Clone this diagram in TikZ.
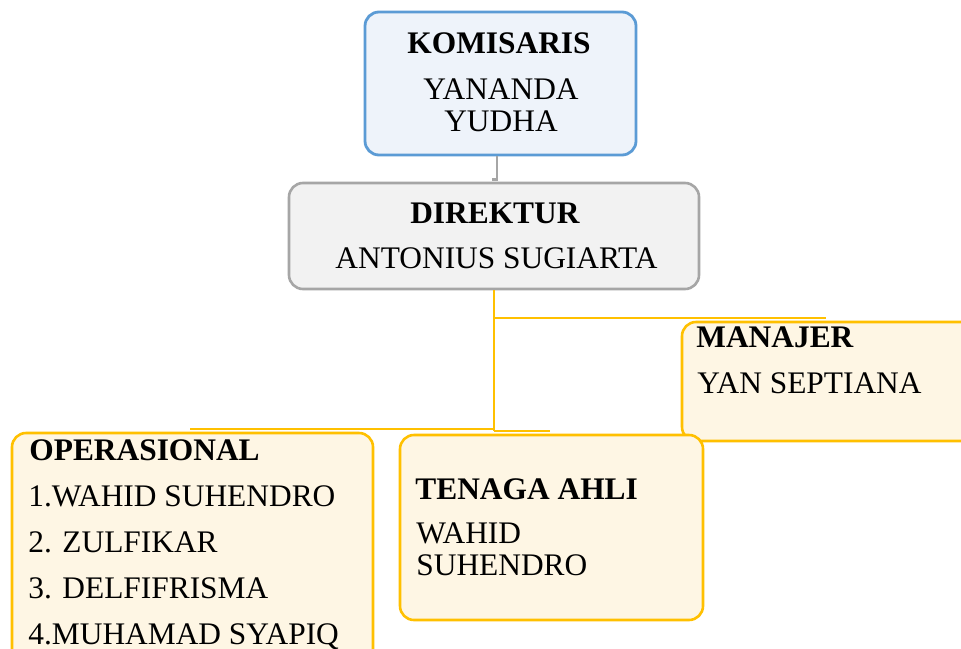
\documentclass[tikz,border=0pt]{standalone}
\usepackage{fontspec}
\setmainfont{Liberation Serif}
\definecolor{komblue}{HTML}{5B9BD5}
\definecolor{komfill}{HTML}{EEF3FA}
\definecolor{dirgray}{HTML}{A6A6A6}
\definecolor{dirfill}{HTML}{F2F2F2}
\definecolor{unitgold}{HTML}{FFC000}
\definecolor{unitfill}{HTML}{FEF6E4}
\tikzset{
  orgbox/.style={rectangle, rounded corners=7pt, line width=1.3pt, inner sep=0pt},
  kombox/.style={orgbox, draw=komblue, fill=komfill, line width=1.4pt},
  dirbox/.style={orgbox, draw=dirgray, fill=dirfill},
  unitbox/.style={orgbox, draw=unitgold, fill=unitfill},
  label/.style={anchor=base, inner sep=0pt, font=\fontsize{15.7}{18}\selectfont},
  labelw/.style={label, anchor=base west},
  goldline/.style={draw=unitgold, line width=1.3pt},
  grayline/.style={draw=dirgray, line width=1.3pt}
}
\begin{document}
\begin{tikzpicture}[x=0.5pt, y=-0.5pt]
  \clip (0,0) rectangle (961,648);
  \fill[white] (0,0) rectangle (961,648);

  \node[kombox, minimum width=135.5pt, minimum height=71.5pt] (komisaris) at (500.5,83.5) {};
  \node[dirbox, minimum width=205pt, minimum height=53pt] (direktur) at (494,236) {};
  \node[unitbox, minimum width=149pt, minimum height=59.5pt] (manajer) at (831,381.5) {};
  \node[unitbox, minimum width=180.5pt, minimum height=118.5pt] (operasional) at (192.5,551.5) {};
  \node[unitbox, minimum width=151.5pt, minimum height=92.5pt] (tenaga) at (551.5,527.5) {};

  \node[label] (komtitle) at (499,53) {\textbf{KOMISARIS}};
  \node[label] (komname1) at (501,99) {YANANDA};
  \node[label] (komname2) at (501,131) {YUDHA};

  \node[label] (dirtitle) at (495,223) {\textbf{DIREKTUR}};
  \node[label] (dirname) at (496.5,268) {ANTONIUS SUGIARTA};

  \node[labelw] (mantitle) at (696,347) {\textbf{MANAJER}};
  \node[labelw] (manname) at (697,393) {YAN SEPTIANA};

  \node[labelw] (optitle) at (29,460) {\textbf{OPERASIONAL}};
  \node[labelw] (opname1) at (28,506) {1.WAHID SUHENDRO};
  \node[labelw] (opname2) at (28,552) {2. ZULFIKAR};
  \node[labelw] (opname3) at (28,598) {3. DELFIFRISMA};
  \node[labelw] (opname4) at (28,644) {4.MUHAMAD SYAPIQ};

  \node[labelw] (tatitle) at (415,499) {\textbf{TENAGA AHLI}};
  \node[labelw] (taname1) at (416,543) {WAHID};
  \node[labelw] (taname2) at (416,575) {SUHENDRO};

  \coordinate (trunk) at (494,431);
  \coordinate (manend) at (826,318);
  \coordinate (opend) at (190,429);
  \coordinate (taend) at (550,431);

  \draw[grayline] (komisaris.south) ++(-3.5,0) -- ++(0,23) -- ++(-5,0);
  \draw[goldline] (direktur.south) -- (trunk);
  \draw[goldline] (direktur.south |- manend) -- (manend);
  \draw[goldline] (opend) -- (opend -| trunk);
  \draw[goldline] (trunk) -- (taend);
\end{tikzpicture}
\end{document}
